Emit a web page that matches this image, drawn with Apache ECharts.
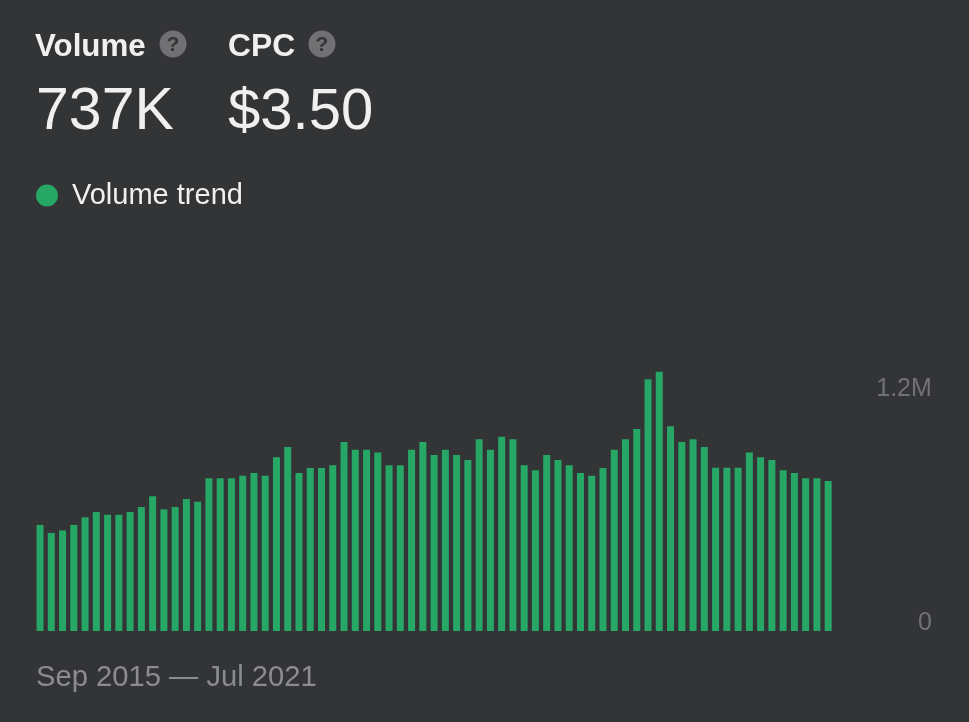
<!DOCTYPE html>
<html><head><meta charset="utf-8">
<style>html,body{margin:0;padding:0;background:#333436}#c{width:969px;height:722px}</style>
<script src="https://cdn.jsdelivr.net/npm/echarts@6/dist/echarts.min.js"></script>
</head><body><div id="c"></div>
<script>
const seriesName = 'Volume trend';
const months = ['Sep 2015','Oct 2015','Nov 2015','Dec 2015',
 'Jan 2016','Feb 2016','Mar 2016','Apr 2016','May 2016','Jun 2016','Jul 2016','Aug 2016','Sep 2016','Oct 2016','Nov 2016','Dec 2016',
 'Jan 2017','Feb 2017','Mar 2017','Apr 2017','May 2017','Jun 2017','Jul 2017','Aug 2017','Sep 2017','Oct 2017','Nov 2017','Dec 2017',
 'Jan 2018','Feb 2018','Mar 2018','Apr 2018','May 2018','Jun 2018','Jul 2018','Aug 2018','Sep 2018','Oct 2018','Nov 2018','Dec 2018',
 'Jan 2019','Feb 2019','Mar 2019','Apr 2019','May 2019','Jun 2019','Jul 2019','Aug 2019','Sep 2019','Oct 2019','Nov 2019','Dec 2019',
 'Jan 2020','Feb 2020','Mar 2020','Apr 2020','May 2020','Jun 2020','Jul 2020','Aug 2020','Sep 2020','Oct 2020','Nov 2020','Dec 2020',
 'Jan 2021','Feb 2021','Mar 2021','Apr 2021','May 2021','Jun 2021','Jul 2021'];
const volume = [544000,503000,516000,544000,583000,610000,596000,596000,610000,636000,691000,624000,636000,677000,663000,783000,783000,783000,796000,810000,796000,891000,944000,810000,836000,836000,850000,969000,930000,930000,916000,850000,850000,930000,969000,903000,930000,903000,877000,983000,930000,996000,983000,850000,824000,903000,877000,850000,810000,796000,836000,930000,983000,1036000,1291000,1330000,1050000,969000,983000,944000,837000,837000,837000,916000,891000,877000,824000,810000,783000,783000,769000];
const axisTicks = [0,1200000];
const tickLabels = {0:'0',1200000:'1.2M'};
const dateRange = 'Sep 2015 — Jul 2021';
const metricNames = ['Volume','CPC'];
const metricValues = ['737K','$3.50'];

const FONT = '"Liberation Sans", Arial, sans-serif';
const WHITE = '#f0f0f0';
function txt(x,y,s,size,weight,fill,align){
  return {type:'text',x:x,y:y,silent:true,style:{text:s,font:(weight||'normal')+' '+size+'px '+FONT,fill:fill,textAlign:align||'left',textVerticalAlign:'middle'}};
}
function help(x,y){
  return [{type:'circle',silent:true,shape:{cx:x,cy:y,r:13.5},style:{fill:'#717173'}},
          txt(x,y+1,'?',21,'bold','#333436','center')];
}
const chart = echarts.init(document.getElementById('c'),null,{renderer:'canvas'});
chart.setOption({
  backgroundColor:'#333436',
  animation:false,
  textStyle:{fontFamily:FONT},
  grid:{left:34.4,width:799.4,bottom:91,top:163,containLabel:false},
  legend:{left:31,top:176,icon:'circle',itemWidth:22,itemHeight:22,itemGap:0,selectedMode:false,
    data:[seriesName],
    textStyle:{color:WHITE,fontSize:29,fontFamily:FONT,padding:[0,0,0,9]}},
  xAxis:{type:'category',data:months,axisLine:{show:false},axisTick:{show:false},axisLabel:{show:false},splitLine:{show:false}},
  yAxis:{type:'value',position:'right',min:0,max:2400000,
    axisTick:{show:false},axisLine:{show:false},splitLine:{show:false},
    customValues:axisTicks,
    axisLabel:{show:true,customValues:axisTicks,formatter:v=>tickLabels[v],align:'right',verticalAlign:'bottom',margin:98,color:'#717274',fontSize:25,fontFamily:FONT,lineHeight:25,padding:[0,0,-5,0]}},
  series:[{name:seriesName,type:'bar',data:volume,barWidth:7,itemStyle:{color:'#27a765'}}],
  graphic:{elements:[
    txt(35,47,metricNames[0],31.3,'bold',WHITE),
    ...help(173,44),
    txt(228,47,metricNames[1],31.8,'bold',WHITE),
    ...help(322,44),
    txt(36,113,metricValues[0],59,'normal',WHITE),
    txt(228,113,metricValues[1],58,'normal',WHITE),
    txt(36,678,dateRange,29.2,'normal','#8b8c8e')
  ]}
});
</script></body></html>
